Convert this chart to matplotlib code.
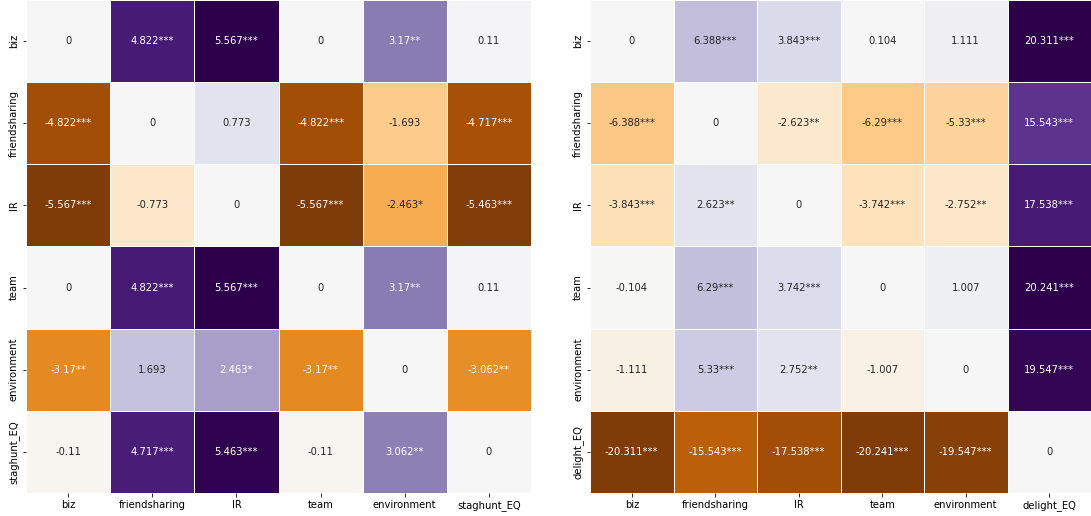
import numpy as np
import matplotlib
matplotlib.use("Agg")
import matplotlib.pyplot as plt
import seaborn as sns

# left matrix: staghunt
left_names = ["biz", "friendsharing", "IR", "team", "environment", "staghunt_EQ"]
left_vals = [
    [0, 4.822, 5.567, 0, 3.17, 0.11],
    [-4.822, 0, 0.773, -4.822, -1.693, -4.717],
    [-5.567, -0.773, 0, -5.567, -2.463, -5.463],
    [0, 4.822, 5.567, 0, 3.17, 0.11],
    [-3.17, 1.693, 2.463, -3.17, 0, -3.062],
    [-0.11, 4.717, 5.463, -0.11, 3.062, 0],
]
left_stars = [
    ["", "***", "***", "", "**", ""],
    ["***", "", "", "***", "", "***"],
    ["***", "", "", "***", "*", "***"],
    ["", "***", "***", "", "**", ""],
    ["**", "", "*", "**", "", "**"],
    ["", "***", "***", "", "**", ""],
]

# right matrix: delight
right_names = ["biz", "friendsharing", "IR", "team", "environment", "delight_EQ"]
right_vals = [
    [0, 6.388, 3.843, 0.104, 1.111, 20.311],
    [-6.388, 0, -2.623, -6.29, -5.33, 15.543],
    [-3.843, 2.623, 0, -3.742, -2.752, 17.538],
    [-0.104, 6.29, 3.742, 0, 1.007, 20.241],
    [-1.111, 5.33, 2.752, -1.007, 0, 19.547],
    [-20.311, -15.543, -17.538, -20.241, -19.547, 0],
]
right_stars = [
    ["", "***", "***", "", "", "***"],
    ["***", "", "**", "***", "***", "***"],
    ["***", "**", "", "***", "**", "***"],
    ["", "***", "***", "", "", "***"],
    ["", "***", "**", "", "", "***"],
    ["***", "***", "***", "***", "***", ""],
]


def fmt(v):
    s = f"{v:.3f}".rstrip("0").rstrip(".")
    return "0" if s in ("-0", "") else s


def make_labels(vals, stars):
    return np.array([[fmt(v) + s for v, s in zip(rv, rs)]
                     for rv, rs in zip(vals, stars)])


W, H = 1091, 516
fig = plt.figure(figsize=(W / 72, H / 72), dpi=72)
ax1 = fig.add_axes([26 / W, 1 - 493 / H, 505 / W, 493 / H])
ax2 = fig.add_axes([590 / W, 1 - 493 / H, 501 / W, 493 / H])

for ax, names, vals, stars in [(ax1, left_names, left_vals, left_stars),
                               (ax2, right_names, right_vals, right_stars)]:
    sns.heatmap(np.array(vals), annot=make_labels(vals, stars), fmt="",
                cmap="PuOr", center=0, linewidths=1, linecolor="white",
                cbar=False, ax=ax, xticklabels=names, yticklabels=names,
                annot_kws={"fontsize": 10})
    ax.tick_params(labelsize=10)
    ax.set_xticklabels(names, rotation=0)
    ax.set_yticklabels(names, rotation=90, va="center")

fig.savefig("out.png", dpi=72)
